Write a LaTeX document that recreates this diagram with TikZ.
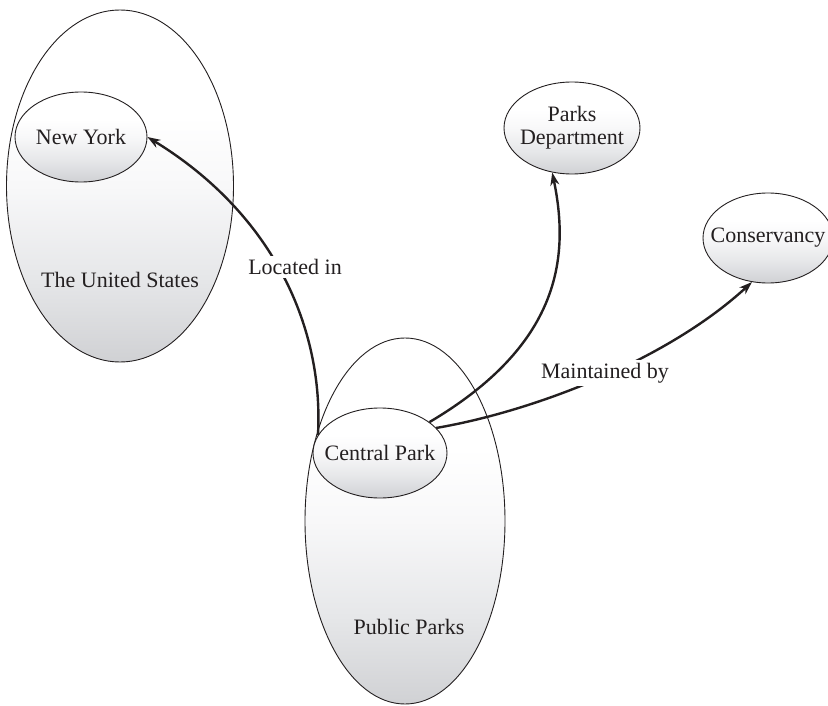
\documentclass[tikz,border=0pt]{standalone}
\usepackage{fontspec}
\setmainfont{Liberation Serif}
\usetikzlibrary{shapes.geometric,arrows.meta}
\definecolor{shadebot}{RGB}{208,209,212}
\definecolor{shadelow}{RGB}{230,231,233}
\definecolor{shademid}{RGB}{248,248,249}
\definecolor{ink}{RGB}{35,31,32}
% white upper half fading to a light grey at the bottom
\pgfdeclareverticalshading{blobshade}{100bp}{%
  color(0bp)=(shadebot); color(25bp)=(shadebot); color(37bp)=(shadelow);
  color(50bp)=(shademid); color(60bp)=(white); color(100bp)=(white)}
\begin{document}
\begin{tikzpicture}[x=1pt,y=-1pt,
  blob/.style={ellipse,draw=ink,line width=0.9pt,inner sep=0pt,shading=blobshade},
  txt/.style={text=ink,font=\fontsize{22}{24}\selectfont,align=center},
  lbl/.style={txt,fill=white,inner sep=3pt},
  rel/.style={draw=ink,line width=2.4pt,-{Stealth[length=13pt,width=9pt]}}]
\useasboundingbox (0,0) rectangle (828,706);

% outer classes
\node[blob,minimum width=227pt,minimum height=352pt] (us) at (120,186) {};
\node[blob,minimum width=200pt,minimum height=366pt] (pp) at (405,521) {};

% instances
\node[blob,minimum width=132pt,minimum height=90pt] (ny) at (81,137) {};
\node[blob,minimum width=134pt,minimum height=90pt] (cp) at (380,453) {};
\node[blob,minimum width=136pt,minimum height=92pt] (pd) at (572,128) {};
\node[blob,minimum width=130pt,minimum height=90pt] (co) at (768,238) {};

% texts
\node[txt] (usT) at (120,280) {The United States};
\node[txt] (ppT) at (409,627) {Public Parks};
\node[txt] (nyT) at (ny) {New York};
\node[txt] (cpT) at (cp) {Central Park};
\node[txt] (pdT) at (pd) {Parks\\[-1pt]Department};
\node[txt] (coT) at (co) {Conservancy};

% relations
\draw[rel] (cp.164) .. controls (324,330) and (275,215) .. (ny.east);
\draw[rel] (cp.32) .. controls (560,345) and (570,258) .. (pd.246);
\draw[rel] (cp.24) .. controls (530,412) and (665,362) .. (co.250);

% relation labels
\node[lbl] (locL) at (295,267) {Located in};
\node[lbl] (mntL) at (605,373) {Maintained by};
\end{tikzpicture}
\end{document}
